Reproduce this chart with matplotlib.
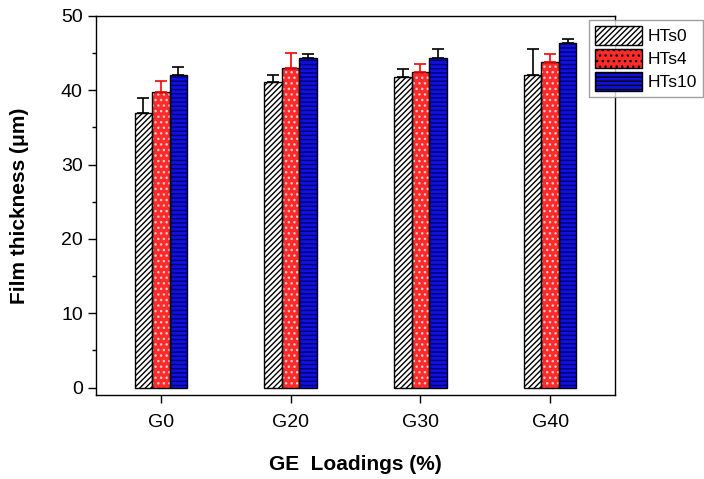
import numpy as np
import matplotlib
matplotlib.use('Agg')
import matplotlib.pyplot as plt
from matplotlib.ticker import MultipleLocator
import matplotlib.patches as mpatches

plt.rcParams['font.family'] = ['Liberation Sans', 'DejaVu Sans']
plt.rcParams['hatch.linewidth'] = 1.0

groups = ['G0', 'G20', 'G30', 'G40']
series = ['HTs0', 'HTs4', 'HTs10']
hts0 = [37.0, 41.1, 41.8, 42.1]
hts0_err = [2.0, 1.0, 1.1, 3.4]
hts4 = [39.8, 43.0, 42.4, 43.8]
hts4_err = [1.5, 2.0, 1.2, 1.1]
hts10 = [42.1, 44.4, 44.4, 46.4]
hts10_err = [1.0, 0.5, 1.1, 0.5]

values = [hts0, hts4, hts10]
errors = [hts0_err, hts4_err, hts10_err]
faces = ['white', '#ff2a2a', '#1010e0']
hatch_cols = ['black', '#ffc8c8', '#000070']
hatches = ['//////', '...', '----']
err_cols = ['black', 'red', 'black']

fig = plt.figure(figsize=(7.04, 4.79), dpi=100)
ax = fig.add_axes([96/704, 1 - 395/479, 519/704, 379/479])

x = np.arange(len(groups))
w = 0.135
for i in range(3):
    pos = x + (i - 1) * w
    ax.bar(pos, values[i], w, color=faces[i], edgecolor=hatch_cols[i],
           hatch=hatches[i], linewidth=0, zorder=2)
    ax.bar(pos, values[i], w, fill=False, edgecolor='black', linewidth=1.0, zorder=3)
    ax.errorbar(pos, values[i], yerr=[np.zeros(4), errors[i]], fmt='none',
                ecolor=err_cols[i], elinewidth=1.2, capsize=4, capthick=1.2, zorder=4)

ax.set_xlim(-0.5, 3.5)
ax.set_ylim(-1, 50)
ax.set_xticks(x)
ax.set_xticklabels(groups)
ax.yaxis.set_major_locator(MultipleLocator(10))
ax.yaxis.set_minor_locator(MultipleLocator(5))
ax.tick_params(axis='both', which='major', labelsize=14, length=6, width=1, direction='out')
ax.tick_params(axis='x', which='major', pad=8)
ax.tick_params(axis='y', which='minor', length=3, width=1, direction='out')
ax.tick_params(axis='x', which='minor', bottom=False)
for s in ax.spines.values():
    s.set_linewidth(1.0)

ax.set_xlabel('GE  Loadings (%)', fontsize=15, fontweight='bold', labelpad=17)
ax.set_ylabel('Film thickness (μm)', fontsize=15, fontweight='bold', labelpad=23)

handles = []
for i in range(3):
    handles.append(mpatches.Patch(facecolor=faces[i], edgecolor=hatch_cols[i],
                                  hatch=hatches[i], label=series[i]))
leg = ax.legend(handles=handles, loc='upper left', bbox_to_anchor=(0.95, 0.99),
                fontsize=12.5, frameon=True, fancybox=False, edgecolor='#888888',
                handlelength=2.7, handleheight=1.35, handletextpad=0.3,
                labelspacing=0.2, borderpad=0.35, borderaxespad=0)
leg.get_frame().set_linewidth(1.0)
for p in leg.get_patches():
    p.set_linewidth(1.0)
    p.set_edgecolor('black')

plt.savefig('out.png', dpi=100)
